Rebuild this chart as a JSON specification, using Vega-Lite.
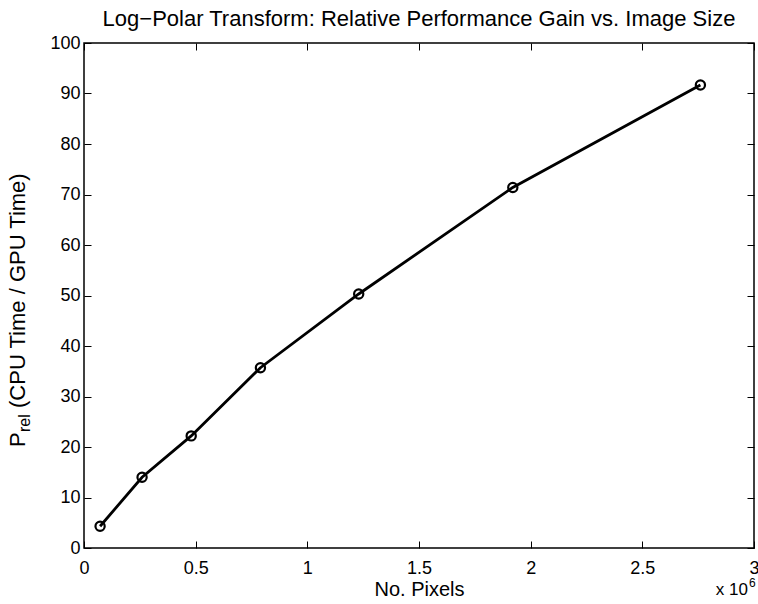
{
  "$schema": "https://vega.github.io/schema/vega-lite/v6.json",
  "width": 670,
  "height": 505,
  "autosize": "none",
  "padding": {"left": 84, "top": 43, "right": 4, "bottom": 56},
  "background": "white",
  "title": {
    "text": "Log−Polar Transform: Relative Performance Gain vs. Image Size",
    "font": "Liberation Sans",
    "fontSize": 22,
    "fontWeight": "normal",
    "color": "black",
    "anchor": "middle",
    "offset": 3
  },
  "config": {
    "view": {"stroke": "black", "strokeWidth": 1.5},
    "axis": {
      "domain": false,
      "grid": false,
      "ticks": true,
      "tickSize": -7,
      "tickColor": "black",
      "tickWidth": 1,
      "labelFont": "Liberation Sans",
      "labelFontSize": 18,
      "labelColor": "black",
      "labelFlush": false,
      "labelOverlap": false,
      "titleFont": "Liberation Sans",
      "titleFontSize": 20,
      "titleFontWeight": "normal",
      "titleColor": "black"
    }
  },
  "datasets": {
    "perf": [
      {"pixels": 0.072, "gain": 4.3},
      {"pixels": 0.26, "gain": 14.0},
      {"pixels": 0.48, "gain": 22.2},
      {"pixels": 0.79, "gain": 35.7},
      {"pixels": 1.23, "gain": 50.3},
      {"pixels": 1.92, "gain": 71.4},
      {"pixels": 2.76, "gain": 91.7}
    ]
  },
  "resolve": {"axis": {"x": "independent", "y": "independent"}},
  "layer": [
    {
      "data": {"name": "perf"},
      "mark": {"type": "line", "color": "black", "strokeWidth": 2.8},
      "encoding": {
        "x": {
          "field": "pixels",
          "type": "quantitative",
          "scale": {"domain": [0, 3], "nice": false, "zero": false},
          "axis": {
            "orient": "bottom",
            "values": [0, 0.5, 1, 1.5, 2, 2.5, 3],
            "format": "~g",
            "labelPadding": 18,
            "title": "No. Pixels",
            "titlePadding": 2
          }
        },
        "y": {
          "field": "gain",
          "type": "quantitative",
          "scale": {"domain": [0, 100], "nice": false, "zero": false},
          "axis": {
            "orient": "left",
            "values": [0, 10, 20, 30, 40, 50, 60, 70, 80, 90, 100],
            "labelPadding": 11,
            "title": null
          }
        }
      }
    },
    {
      "data": {"name": "perf"},
      "mark": {"type": "point", "shape": "circle", "filled": false, "color": "black", "size": 85, "strokeWidth": 2.2, "opacity": 1},
      "encoding": {
        "x": {"field": "pixels", "type": "quantitative", "scale": {"domain": [0, 3]}, "axis": null},
        "y": {"field": "gain", "type": "quantitative", "scale": {"domain": [0, 100]}, "axis": null}
      }
    },
    {
      "data": {"name": "perf"},
      "mark": {"type": "point", "opacity": 0},
      "encoding": {
        "x": {
          "field": "pixels",
          "type": "quantitative",
          "scale": {"domain": [0, 3]},
          "axis": {"orient": "top", "values": [0, 0.5, 1, 1.5, 2, 2.5, 3], "labels": false, "title": null}
        },
        "y": {
          "field": "gain",
          "type": "quantitative",
          "scale": {"domain": [0, 100]},
          "axis": {"orient": "right", "values": [0, 10, 20, 30, 40, 50, 60, 70, 80, 90, 100], "labels": false, "title": null}
        }
      }
    },
    {
      "data": {"values": [{"t": "x 10"}]},
      "mark": {"type": "text", "font": "Liberation Sans", "fontSize": 17, "align": "right", "baseline": "alphabetic", "dx": -6, "color": "black"},
      "encoding": {
        "text": {"field": "t"},
        "x": {"datum": 3, "type": "quantitative", "scale": {"domain": [0, 3]}, "axis": null},
        "y": {"datum": -9.4, "type": "quantitative", "scale": {"domain": [0, 100]}, "axis": null}
      }
    },
    {
      "data": {"values": [{"t": "6"}]},
      "mark": {"type": "text", "font": "Liberation Sans", "fontSize": 12, "align": "left", "baseline": "alphabetic", "dx": -5, "dy": -8, "color": "black"},
      "encoding": {
        "text": {"field": "t"},
        "x": {"datum": 3, "type": "quantitative", "scale": {"domain": [0, 3]}, "axis": null},
        "y": {"datum": -9.4, "type": "quantitative", "scale": {"domain": [0, 100]}, "axis": null}
      }
    },
    {
      "data": {"values": [{"t": "P"}]},
      "mark": {"type": "text", "font": "Liberation Sans", "fontSize": 22, "angle": 270, "align": "left", "baseline": "alphabetic", "color": "black"},
      "encoding": {
        "text": {"field": "t"},
        "x": {"datum": -0.264, "type": "quantitative", "scale": {"domain": [0, 3]}, "axis": null},
        "y": {"datum": 20, "type": "quantitative", "scale": {"domain": [0, 100]}, "axis": null}
      }
    },
    {
      "data": {"values": [{"t": "rel"}]},
      "mark": {"type": "text", "font": "Liberation Sans", "fontSize": 16, "angle": 270, "align": "left", "baseline": "alphabetic", "dx": 14.9, "dy": 5, "color": "black"},
      "encoding": {
        "text": {"field": "t"},
        "x": {"datum": -0.264, "type": "quantitative", "scale": {"domain": [0, 3]}, "axis": null},
        "y": {"datum": 20, "type": "quantitative", "scale": {"domain": [0, 100]}, "axis": null}
      }
    },
    {
      "data": {"values": [{"t": "(CPU Time / GPU Time)"}]},
      "mark": {"type": "text", "font": "Liberation Sans", "fontSize": 22, "angle": 270, "align": "left", "baseline": "alphabetic", "dx": 39, "color": "black"},
      "encoding": {
        "text": {"field": "t"},
        "x": {"datum": -0.264, "type": "quantitative", "scale": {"domain": [0, 3]}, "axis": null},
        "y": {"datum": 20, "type": "quantitative", "scale": {"domain": [0, 100]}, "axis": null}
      }
    }
  ]
}
